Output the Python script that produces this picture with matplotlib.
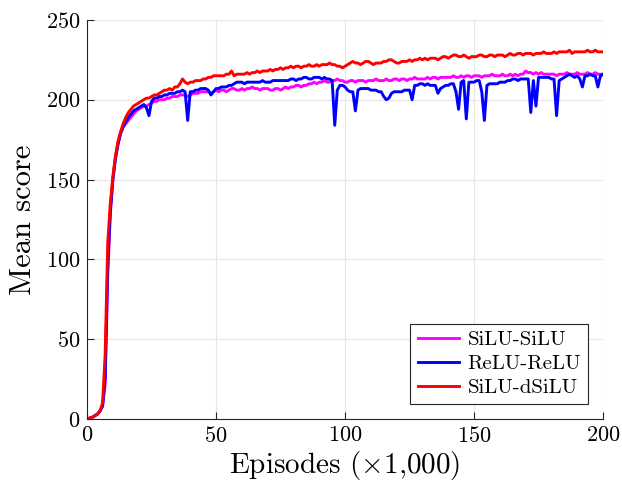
import numpy as np
import matplotlib
matplotlib.use("Agg")
import matplotlib.pyplot as plt

plt.rcParams['font.family'] = 'serif'
plt.rcParams['font.serif'] = ['cmr10']
plt.rcParams['mathtext.fontset'] = 'cm'
plt.rcParams['axes.unicode_minus'] = False
plt.rcParams['axes.formatter.use_mathtext'] = True

episodes = list(range(0, 201))

silu_silu = [
    0, 0.5, 1, 2, 3, 5, 8, 22, 90, 128,
    150, 164, 173, 179, 183, 185, 187, 189, 191, 193,
    194, 195, 196, 196, 197, 198, 199, 199, 200, 200,
    200, 201, 201, 202, 202, 202, 203, 203, 203, 202,
    203, 204, 204, 204, 205, 205, 205, 205, 204, 205,
    206, 205, 206, 206, 205, 206, 207, 207, 206, 206,
    207, 206, 207, 207, 208, 207, 207, 206, 207, 207,
    207, 206, 206, 207, 207, 206, 207, 208, 207, 208,
    208, 209, 209, 208, 209, 209, 210, 210, 211, 210,
    211, 211, 212, 211, 211, 212, 212, 213, 212, 212,
    211, 211, 212, 212, 211, 212, 212, 212, 211, 212,
    212, 212, 213, 212, 212, 212, 213, 212, 212, 213,
    213, 212, 213, 213, 212, 213, 213, 214, 213, 213,
    213, 213, 214, 213, 214, 214, 213, 214, 214, 214,
    214, 214, 215, 214, 214, 215, 214, 215, 215, 214,
    215, 215, 215, 214, 215, 215, 215, 216, 215, 215,
    215, 216, 215, 215, 216, 215, 216, 215, 216, 216,
    218, 217, 217, 216, 217, 216, 217, 216, 216, 216,
    216, 216, 215, 216, 216, 216, 217, 216, 216, 216,
    217, 216, 216, 216, 217, 216, 216, 217, 216, 216,
    216,
]

relu_relu = [
    0, 0.5, 1, 2, 3, 5, 8, 25, 95, 130,
    150, 163, 172, 179, 183, 186, 189, 191, 193, 194,
    195, 196, 197, 195, 190, 199, 201, 201, 202, 202,
    203, 203, 204, 204, 204, 205, 205, 206, 205, 187,
    205, 205, 206, 206, 207, 207, 207, 206, 203, 205,
    207, 207, 208, 208, 208, 209, 209, 210, 211, 211,
    211, 210, 211, 211, 211, 211, 211, 211, 212, 211,
    211, 211, 212, 212, 212, 212, 212, 212, 212, 213,
    213, 212, 213, 213, 214, 214, 213, 213, 214, 214,
    214, 213, 214, 213, 213, 212, 184, 206, 209, 209,
    208, 206, 205, 205, 193, 206, 207, 207, 207, 207,
    206, 206, 206, 205, 205, 202, 200, 201, 204, 205,
    205, 205, 205, 206, 206, 206, 200, 209, 209, 210,
    210, 209, 210, 209, 209, 209, 204, 207, 208, 209,
    209, 210, 210, 205, 194, 211, 212, 188, 211, 211,
    211, 212, 212, 205, 187, 209, 210, 210, 210, 210,
    211, 211, 211, 212, 212, 213, 213, 212, 213, 213,
    213, 213, 192, 212, 196, 214, 214, 214, 214, 214,
    213, 213, 190, 212, 213, 214, 215, 216, 215, 214,
    215, 213, 208, 215, 215, 216, 215, 215, 208, 215,
    216,
]

silu_dsilu = [
    0, 0.5, 1, 2, 3, 5, 10, 40, 110, 135,
    152, 165, 174, 180, 185, 189, 192, 194, 196, 197,
    198, 199, 200, 201, 201, 202, 203, 203, 204, 205,
    206, 206, 207, 206, 208, 208, 210, 213, 211, 210,
    211, 211, 212, 212, 212, 213, 213, 214, 214, 215,
    215, 215, 215, 215, 216, 216, 218, 215, 216, 216,
    216, 216, 217, 216, 217, 217, 218, 217, 218, 218,
    218, 219, 218, 219, 219, 220, 219, 220, 220, 221,
    220, 221, 221, 220, 221, 221, 222, 221, 221, 222,
    221, 222, 222, 222, 223, 222, 222, 221, 221, 220,
    221, 222, 223, 224, 223, 223, 222, 223, 224, 224,
    223, 222, 223, 223, 223, 224, 224, 225, 225, 224,
    223, 223, 224, 224, 224, 225, 224, 225, 225, 226,
    225, 226, 225, 226, 226, 226, 225, 226, 227, 227,
    226, 227, 228, 228, 227, 227, 228, 227, 226, 227,
    227, 227, 228, 228, 227, 227, 228, 228, 227, 228,
    228, 228, 227, 228, 229, 228, 228, 229, 229, 228,
    229, 229, 229, 228, 229, 229, 229, 230, 229, 229,
    229, 230, 229, 230, 230, 230, 230, 231, 229, 230,
    230, 230, 230, 230, 231, 230, 230, 231, 230, 230,
    230,
]

fig = plt.figure(figsize=(6.22, 4.86), dpi=100)
ax = fig.add_axes([0.14, 0.138, 0.8295, 0.821])

ax.plot(episodes, silu_silu, color='#FF00FF', lw=2.1, label='SiLU-SiLU')
ax.plot(episodes, relu_relu, color='#0000FF', lw=2.1, label='ReLU-ReLU')
ax.plot(episodes, silu_dsilu, color='#FF0000', lw=2.1, label='SiLU-dSiLU')

ax.set_xlim(0, 200)
ax.set_ylim(0, 250)
ax.set_xticks([0, 50, 100, 150, 200])
ax.set_yticks([0, 50, 100, 150, 200, 250])
ax.grid(True, color='#e6e6e6', lw=0.8)
ax.set_axisbelow(True)
for s in ['top', 'right']:
    ax.spines[s].set_visible(False)
for s in ['left', 'bottom']:
    ax.spines[s].set_color('#262626')
    ax.spines[s].set_linewidth(0.8)
ax.tick_params(direction='in', length=5, width=0.8, color='#262626',
               labelsize=16, pad=5)

ax.set_xlabel(r'Episodes ($\times$1,000)', fontsize=21, labelpad=2)
ax.set_ylabel('Mean score', fontsize=22, labelpad=6)

leg = ax.legend(loc='lower right', fontsize=15, fancybox=False,
                edgecolor='#262626', framealpha=1, handlelength=2.0,
                borderaxespad=0.7, labelspacing=0.25, handletextpad=0.4,
                borderpad=0.35)
leg.get_frame().set_linewidth(0.8)

fig.savefig('out.png', dpi=100)
